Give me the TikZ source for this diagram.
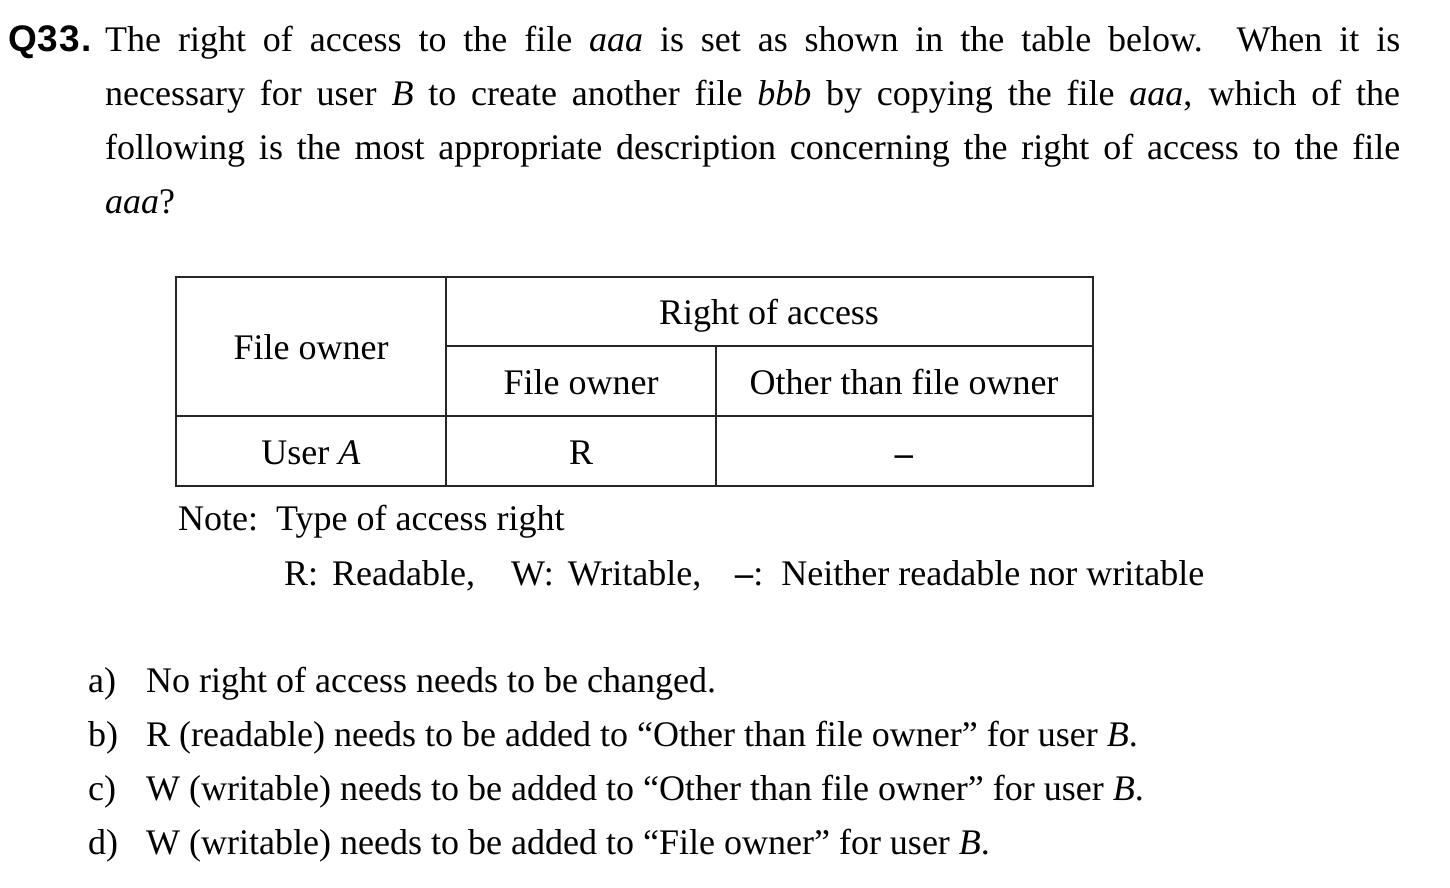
\documentclass[tikz,border=0pt]{standalone}
\usepackage{fontspec}
\setmainfont{Liberation Serif}
\newfontfamily\qfont{Liberation Sans}
\usetikzlibrary{positioning}

\begin{document}
\begin{tikzpicture}[x=1pt,y=-1pt,
  txt/.style={anchor=base west,inner sep=0pt,font=\fontsize{36}{54}\selectfont},
  cell/.style={anchor=base,inner sep=0pt,font=\fontsize{36}{54}\selectfont},
  rule/.style={line width=1.5pt,draw=black!85}]
\useasboundingbox (0,0) rectangle (1450,887);
% question
\node[txt] (qno) at (8,51) {\fontsize{37}{54}\qfont\bfseries Q\kern1pt3\kern1pt3\kern1pt.};
\node[txt] (line1) at (105,51) {\makebox[1295pt][s]{The right of access to the file \textit{aaa} is set as shown in the table below.\ \ When it is}};
\node[txt] (line2) at (105,105) {\makebox[1295pt][s]{necessary for user \textit{B} to create another file \textit{bbb} by copying the file \textit{aaa}, which of the}};
\node[txt] (line3) at (105,159) {\makebox[1295pt][s]{following is the most appropriate description concerning the right of access to the file}};
\node[txt] (line4) at (105,213) {\textit{aaa}?};
% table
\draw[rule] (176,277) rectangle (1093,486);
\draw[rule] (446,277) -- (446,486);
\draw[rule] (716,346) -- (716,486);
\draw[rule] (446,346) -- (1093,346);
\draw[rule] (176,416) -- (1093,416);
\node[cell] (owner) at (311,359) {File owner};
\node[cell] (right) at (769,324) {Right of access};
\node[cell] (own) at (581,394) {File owner};
\node[cell] (other) at (904,394) {Other than file owner};
\node[cell] (usera) at (311,464) {User \textit{A}};
\node[cell] (ra) at (581,464) {R};
\node[cell] (oa) at (904,465) {\textbf{–}};
% note
\node[txt] (note) at (178,530) {Note:\ \ Type of access right};
\node[txt] (kr) at (284,585) {R:\hspace{14pt}Readable,};
\node[txt] (kw) at (511,585) {W:\hspace{14pt}Writable,};
\node[txt] (kn) at (735,585) {\textbf{–}:\hspace{18pt}Neither readable nor writable};
% answers
\node[txt] (la) at (88,692) {a)};
\node[txt] (ta) at (146,692) {No right of access needs to be changed.};
\node[txt] (lb) at (88,746) {b)};
\node[txt] (tb) at (146,746) {R (readable) needs to be added to “Other than file owner” for user \textit{B}.};
\node[txt] (lc) at (88,800) {c)};
\node[txt] (tc) at (146,800) {W (writable) needs to be added to “Other than file owner” for user \textit{B}.};
\node[txt] (ld) at (88,854) {d)};
\node[txt] (td) at (146,854) {W (writable) needs to be added to “File owner” for user \textit{B}.};
\end{tikzpicture}
\end{document}
